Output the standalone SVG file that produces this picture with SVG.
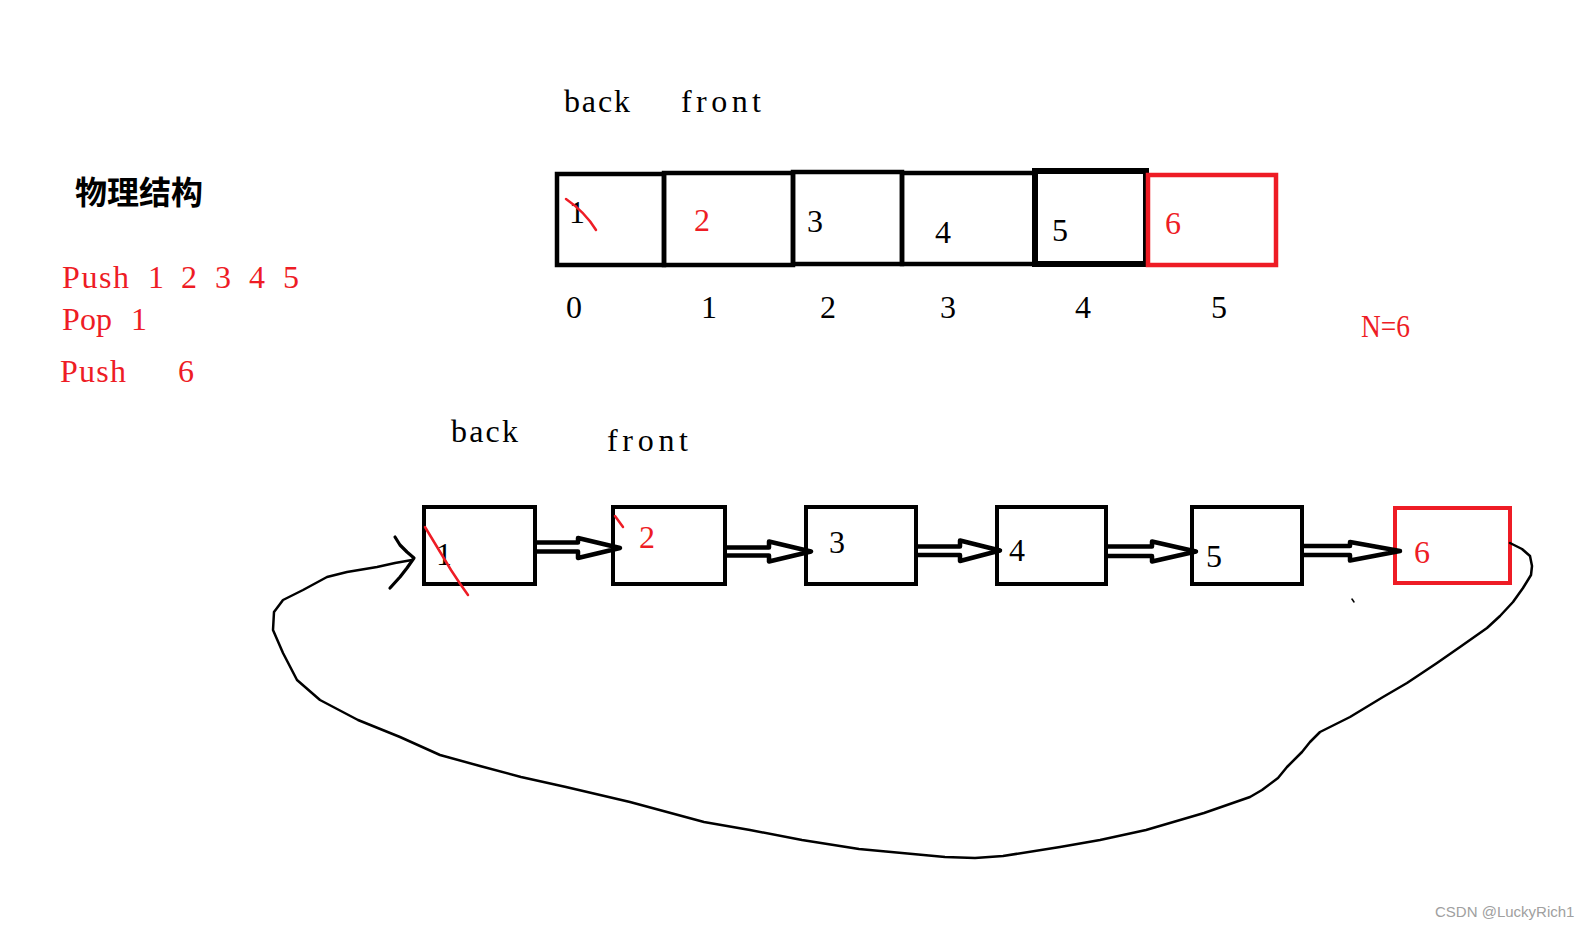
<svg xmlns="http://www.w3.org/2000/svg" width="1590" height="929" viewBox="0 0 1590 929">
<style>
.bg{fill:#ffffff}
.t{font-family:"Liberation Serif","Times New Roman",serif;font-size:32px;fill:#000}
.r{fill:#ee1c25}
.cn{font-family:"Noto Sans CJK SC",sans-serif;font-size:32px;font-weight:700;fill:#000}
.box{fill:none;stroke:#000;stroke-width:4.5}
.rbox{fill:none;stroke:#ee1c25;stroke-width:4.5}
.arr{fill:none;stroke:#000;stroke-width:4.5;stroke-linejoin:round;stroke-linecap:round}
.hand{fill:none;stroke:#000;stroke-width:2.5;stroke-linejoin:round;stroke-linecap:round}
.strike{fill:none;stroke:#ee1c25;stroke-width:2.5;stroke-linecap:round}
.wm{font-family:"Liberation Sans",Arial,sans-serif;font-size:15px;fill:#a0a0a0}
</style>
<rect class="bg" x="0" y="0" width="1590" height="929"/>

<g id="left-notes">
  <text class="cn" x="75" y="204">物理结构</text>
  <text class="t r" x="62" y="288" textLength="67" lengthAdjust="spacing">Push</text>
  <text class="t r" x="148" y="288">1</text>
  <text class="t r" x="181" y="288">2</text>
  <text class="t r" x="215" y="288">3</text>
  <text class="t r" x="249" y="288">4</text>
  <text class="t r" x="283" y="288">5</text>
  <text class="t r" x="62" y="330" textLength="50" lengthAdjust="spacing">Pop</text>
  <text class="t r" x="131" y="330">1</text>
  <text class="t r" x="60" y="382" textLength="66" lengthAdjust="spacing">Push</text>
  <text class="t r" x="178" y="382">6</text>
</g>

<g id="array-labels">
  <text class="t" x="564" y="112" textLength="66" lengthAdjust="spacing">back</text>
  <text class="t" x="681" y="112" textLength="80" lengthAdjust="spacing">front</text>
</g>

<g id="array">
  <g id="cell0"><rect class="box" x="557" y="174" width="107" height="91"/><text class="t" x="569" y="223">1</text>
    <path class="strike" d="M566 199 Q585 212 596 230"/></g>
  <g id="cell1"><rect class="box" x="664" y="173" width="129" height="92"/><text class="t r" x="694" y="231">2</text></g>
  <g id="cell2"><rect class="box" x="793" y="172" width="109" height="92"/><text class="t" x="807" y="232">3</text></g>
  <g id="cell3"><rect class="box" x="902" y="173" width="133" height="91"/><text class="t" x="935" y="243">4</text></g>
  <g id="cell4"><rect class="box" style="stroke-width:6" x="1035" y="171" width="111" height="93"/><text class="t" x="1052" y="241">5</text></g>
  <g id="cell5"><rect class="rbox" x="1148" y="175" width="128" height="90"/><text class="t r" x="1165" y="234">6</text></g>
</g>

<g id="indices">
  <text class="t" x="566" y="318">0</text>
  <text class="t" x="701" y="318">1</text>
  <text class="t" x="820" y="318">2</text>
  <text class="t" x="940" y="318">3</text>
  <text class="t" x="1075" y="318">4</text>
  <text class="t" x="1211" y="318">5</text>
  <text class="t r" x="1361" y="337" textLength="49" lengthAdjust="spacingAndGlyphs">N=6</text>
</g>

<g id="list-labels">
  <text class="t" x="451" y="442" textLength="67" lengthAdjust="spacing">back</text>
  <text class="t" x="607" y="451" textLength="81" lengthAdjust="spacing">front</text>
</g>

<g id="list">
  <g id="node1"><rect class="box" style="stroke-width:4" x="424" y="507" width="111" height="77"/><text class="t" x="436" y="565">1</text>
    <path class="strike" d="M425 527 Q437 547 451 570 Q460 584 468 595"/></g>
  <g id="node2"><rect class="box" style="stroke-width:4" x="613" y="507" width="112" height="77"/><text class="t r" x="639" y="548">2</text>
    <path class="strike" d="M615 516 L623 527"/></g>
  <g id="node3"><rect class="box" style="stroke-width:4" x="806" y="507" width="110" height="77"/><text class="t" x="829" y="553">3</text></g>
  <g id="node4"><rect class="box" style="stroke-width:4" x="997" y="507" width="109" height="77"/><text class="t" x="1009" y="561">4</text></g>
  <g id="node5"><rect class="box" style="stroke-width:4" x="1192" y="507" width="110" height="77"/><text class="t" x="1206" y="567">5</text></g>
  <g id="node6"><rect class="rbox" style="stroke-width:4" x="1395" y="508" width="115" height="75"/><text class="t r" x="1414" y="563">6</text></g>
</g>

<g id="connectors">
  <path class="arr" d="M537 542.5 H578 V538 L620 548 L578 558 V551.5 H537"/>
  <path class="arr" d="M727 547.5 H769 V541.5 L811 551.5 L769 561.5 V555.5 H727"/>
  <path class="arr" d="M918 546.5 H960 V540.5 L1000 550.5 L960 561 V555 H918"/>
  <path class="arr" d="M1108 546.5 H1152 V541.5 L1196 551.5 L1152 561.5 V556 H1108"/>
  <path class="arr" d="M1304 546 H1350 V542 L1400 551 L1350 560.5 V555 H1304"/>
  <polyline class="hand" points="1510,543 1522,549 1530,556 1532,566 1531,575 1523,588 1513,602 1500,616 1487,628 1460,647 1437,663 1407,683 1383,697 1350,717 1320,732 1310,742 1302,752 1287,767 1278,778 1262,790 1250,797 1204,813 1146,830 1100,840 1060,847 1003,856 975,858 945,857 859,849 802,840 750,830 704,822 630,802 566,787 521,777 480,766 440,755 400,737 358,720 320,700 297,680 283,653 273,630 274,612 283,600 303,590 327,577 347,572 377,567 395,563 412,560"/>
  <polyline class="hand" style="stroke-width:3.2" points="395,537 400,545 407,552 414,558 407,568 400,577 390,588"/>
  <path class="hand" style="stroke-width:1.5" d="M1352 599 L1354 602"/>
</g>

<text class="wm" x="1435" y="917">CSDN @LuckyRich1</text>
</svg>
